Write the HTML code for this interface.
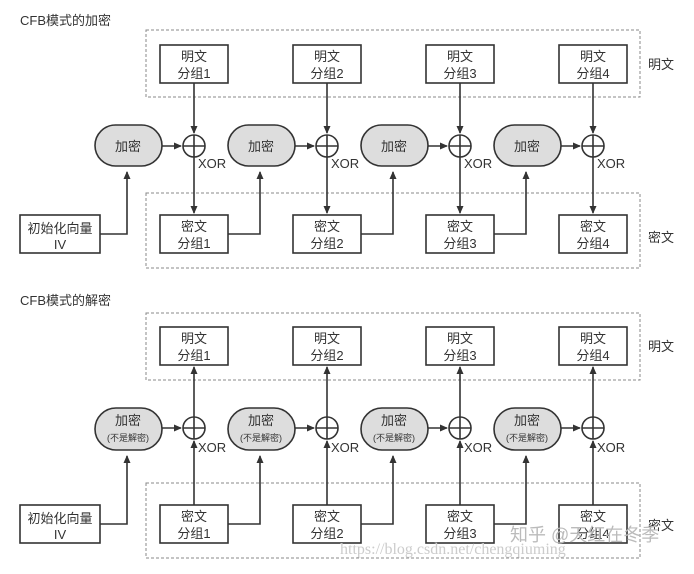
<!DOCTYPE html>
<html><head><meta charset="utf-8"><style>
body{margin:0;background:#fff}
svg text{font-family:"Liberation Sans","Noto Sans CJK SC",sans-serif;fill:#333}
</style></head><body>
<svg width="694" height="569" viewBox="0 0 694 569" xmlns="http://www.w3.org/2000/svg">
<defs>
<marker id="a" markerWidth="8" markerHeight="8" refX="7" refY="4" orient="auto" markerUnits="userSpaceOnUse"><path d="M0,0.5 L8,4 L0,7.5z" fill="#333"/></marker>
<g id="pt"><rect x="0" y="0" width="68" height="38" fill="#fff" stroke="#333" stroke-width="1.6"/></g>
</defs>
<g stroke="#333" stroke-width="1.6" fill="none">
<!-- TOP -->
<rect x="146" y="30" width="494" height="67" stroke="#888" stroke-width="1" stroke-dasharray="3,2"/>
<rect x="146" y="193" width="494" height="75" stroke="#888" stroke-width="1" stroke-dasharray="3,2"/>
<rect x="20" y="215" width="80" height="38" fill="#fff"/>
<path d="M100,234 H127 V172" marker-end="url(#a)"/>
<!-- BOTTOM -->
<rect x="146" y="313" width="494" height="67" stroke="#888" stroke-width="1" stroke-dasharray="3,2"/>
<rect x="146" y="483" width="494" height="75" stroke="#888" stroke-width="1" stroke-dasharray="3,2"/>
<rect x="20" y="505" width="80" height="38" fill="#fff"/>
<path d="M100,524 H127 V456" marker-end="url(#a)"/>
</g>
<g id="col">
</g>
<g stroke="#333" stroke-width="1.6" fill="none">
<!-- generated columns -->
<g id="c0">
<rect x="160" y="45" width="68" height="38" fill="#fff"/>
<path d="M194,83 V133" marker-end="url(#a)"/>
<path d="M194,157 V213" marker-end="url(#a)"/>
<rect x="160" y="215" width="68" height="38" fill="#fff"/>
<rect x="95" y="125" width="67" height="41" rx="20.5" fill="#ddd"/>
<path d="M162,146 H181" marker-end="url(#a)"/>
<circle cx="194" cy="146" r="11" fill="#fff"/><path d="M183,146 H205 M194,135 V157"/>
<!-- bottom -->
<rect x="160" y="327" width="68" height="38" fill="#fff"/>
<path d="M194,505 V441" marker-end="url(#a)"/>
<path d="M194,417 V367" marker-end="url(#a)"/>
<rect x="160" y="505" width="68" height="38" fill="#fff"/>
<rect x="95" y="408" width="67" height="42" rx="21" fill="#ddd"/>
<path d="M162,428 H181" marker-end="url(#a)"/>
<circle cx="194" cy="428" r="11" fill="#fff"/><path d="M183,428 H205 M194,417 V439"/>
</g>
<use href="#c0" x="133"/><use href="#c0" x="266"/><use href="#c0" x="399"/>
<path d="M228,234 H260 V172" marker-end="url(#a)"/>
<path d="M361,234 H393 V172" marker-end="url(#a)"/>
<path d="M494,234 H526 V172" marker-end="url(#a)"/>
<path d="M228,524 H260 V456" marker-end="url(#a)"/>
<path d="M361,524 H393 V456" marker-end="url(#a)"/>
<path d="M494,524 H526 V456" marker-end="url(#a)"/>
</g>
<g font-size="13">
<text x="20" y="25">CFB模式的加密</text>
<text x="20" y="305">CFB模式的解密</text>
<text x="648" y="69">明文</text><text x="648" y="242">密文</text>
<text x="648" y="351">明文</text><text x="648" y="530">密文</text>
<text x="60" y="233" text-anchor="middle">初始化向量</text><text x="60" y="249" text-anchor="middle">IV</text>
<text x="60" y="523" text-anchor="middle">初始化向量</text><text x="60" y="539" text-anchor="middle">IV</text>
</g>
<g id="tx0" font-size="13" text-anchor="middle">
<text x="194" y="61">明文</text><text x="194" y="78">分组1</text>
<text x="194" y="231">密文</text><text x="194" y="248">分组1</text>
<text x="128" y="151">加密</text>
<text x="198" y="168" text-anchor="start">XOR</text>
<text x="194" y="343">明文</text><text x="194" y="360">分组1</text>
<text x="194" y="521">密文</text><text x="194" y="538">分组1</text>
<text x="128" y="425">加密</text><text x="128" y="441" font-size="9">(不是解密)</text>
<text x="198" y="452" text-anchor="start">XOR</text>
</g>
<g font-size="13" text-anchor="middle">
<g transform="translate(133,0)"><text x="194" y="61">明文</text><text x="194" y="78">分组2</text><text x="194" y="231">密文</text><text x="194" y="248">分组2</text><text x="128" y="151">加密</text><text x="198" y="168" text-anchor="start">XOR</text><text x="194" y="343">明文</text><text x="194" y="360">分组2</text><text x="194" y="521">密文</text><text x="194" y="538">分组2</text><text x="128" y="425">加密</text><text x="128" y="441" font-size="9">(不是解密)</text><text x="198" y="452" text-anchor="start">XOR</text></g>
<g transform="translate(266,0)"><text x="194" y="61">明文</text><text x="194" y="78">分组3</text><text x="194" y="231">密文</text><text x="194" y="248">分组3</text><text x="128" y="151">加密</text><text x="198" y="168" text-anchor="start">XOR</text><text x="194" y="343">明文</text><text x="194" y="360">分组3</text><text x="194" y="521">密文</text><text x="194" y="538">分组3</text><text x="128" y="425">加密</text><text x="128" y="441" font-size="9">(不是解密)</text><text x="198" y="452" text-anchor="start">XOR</text></g>
<g transform="translate(399,0)"><text x="194" y="61">明文</text><text x="194" y="78">分组4</text><text x="194" y="231">密文</text><text x="194" y="248">分组4</text><text x="128" y="151">加密</text><text x="198" y="168" text-anchor="start">XOR</text><text x="194" y="343">明文</text><text x="194" y="360">分组4</text><text x="194" y="521">密文</text><text x="194" y="538">分组4</text><text x="128" y="425">加密</text><text x="128" y="441" font-size="9">(不是解密)</text><text x="198" y="452" text-anchor="start">XOR</text></g>
</g>
<text x="510" y="541" font-size="18" style="fill:#bbb">知乎 @天红在冬季</text>
<text x="340" y="554" font-size="16" style="fill:#ccc;font-family:'Liberation Serif',serif">https://blog.csdn.net/chengqiuming</text>
</svg>
</body></html>
